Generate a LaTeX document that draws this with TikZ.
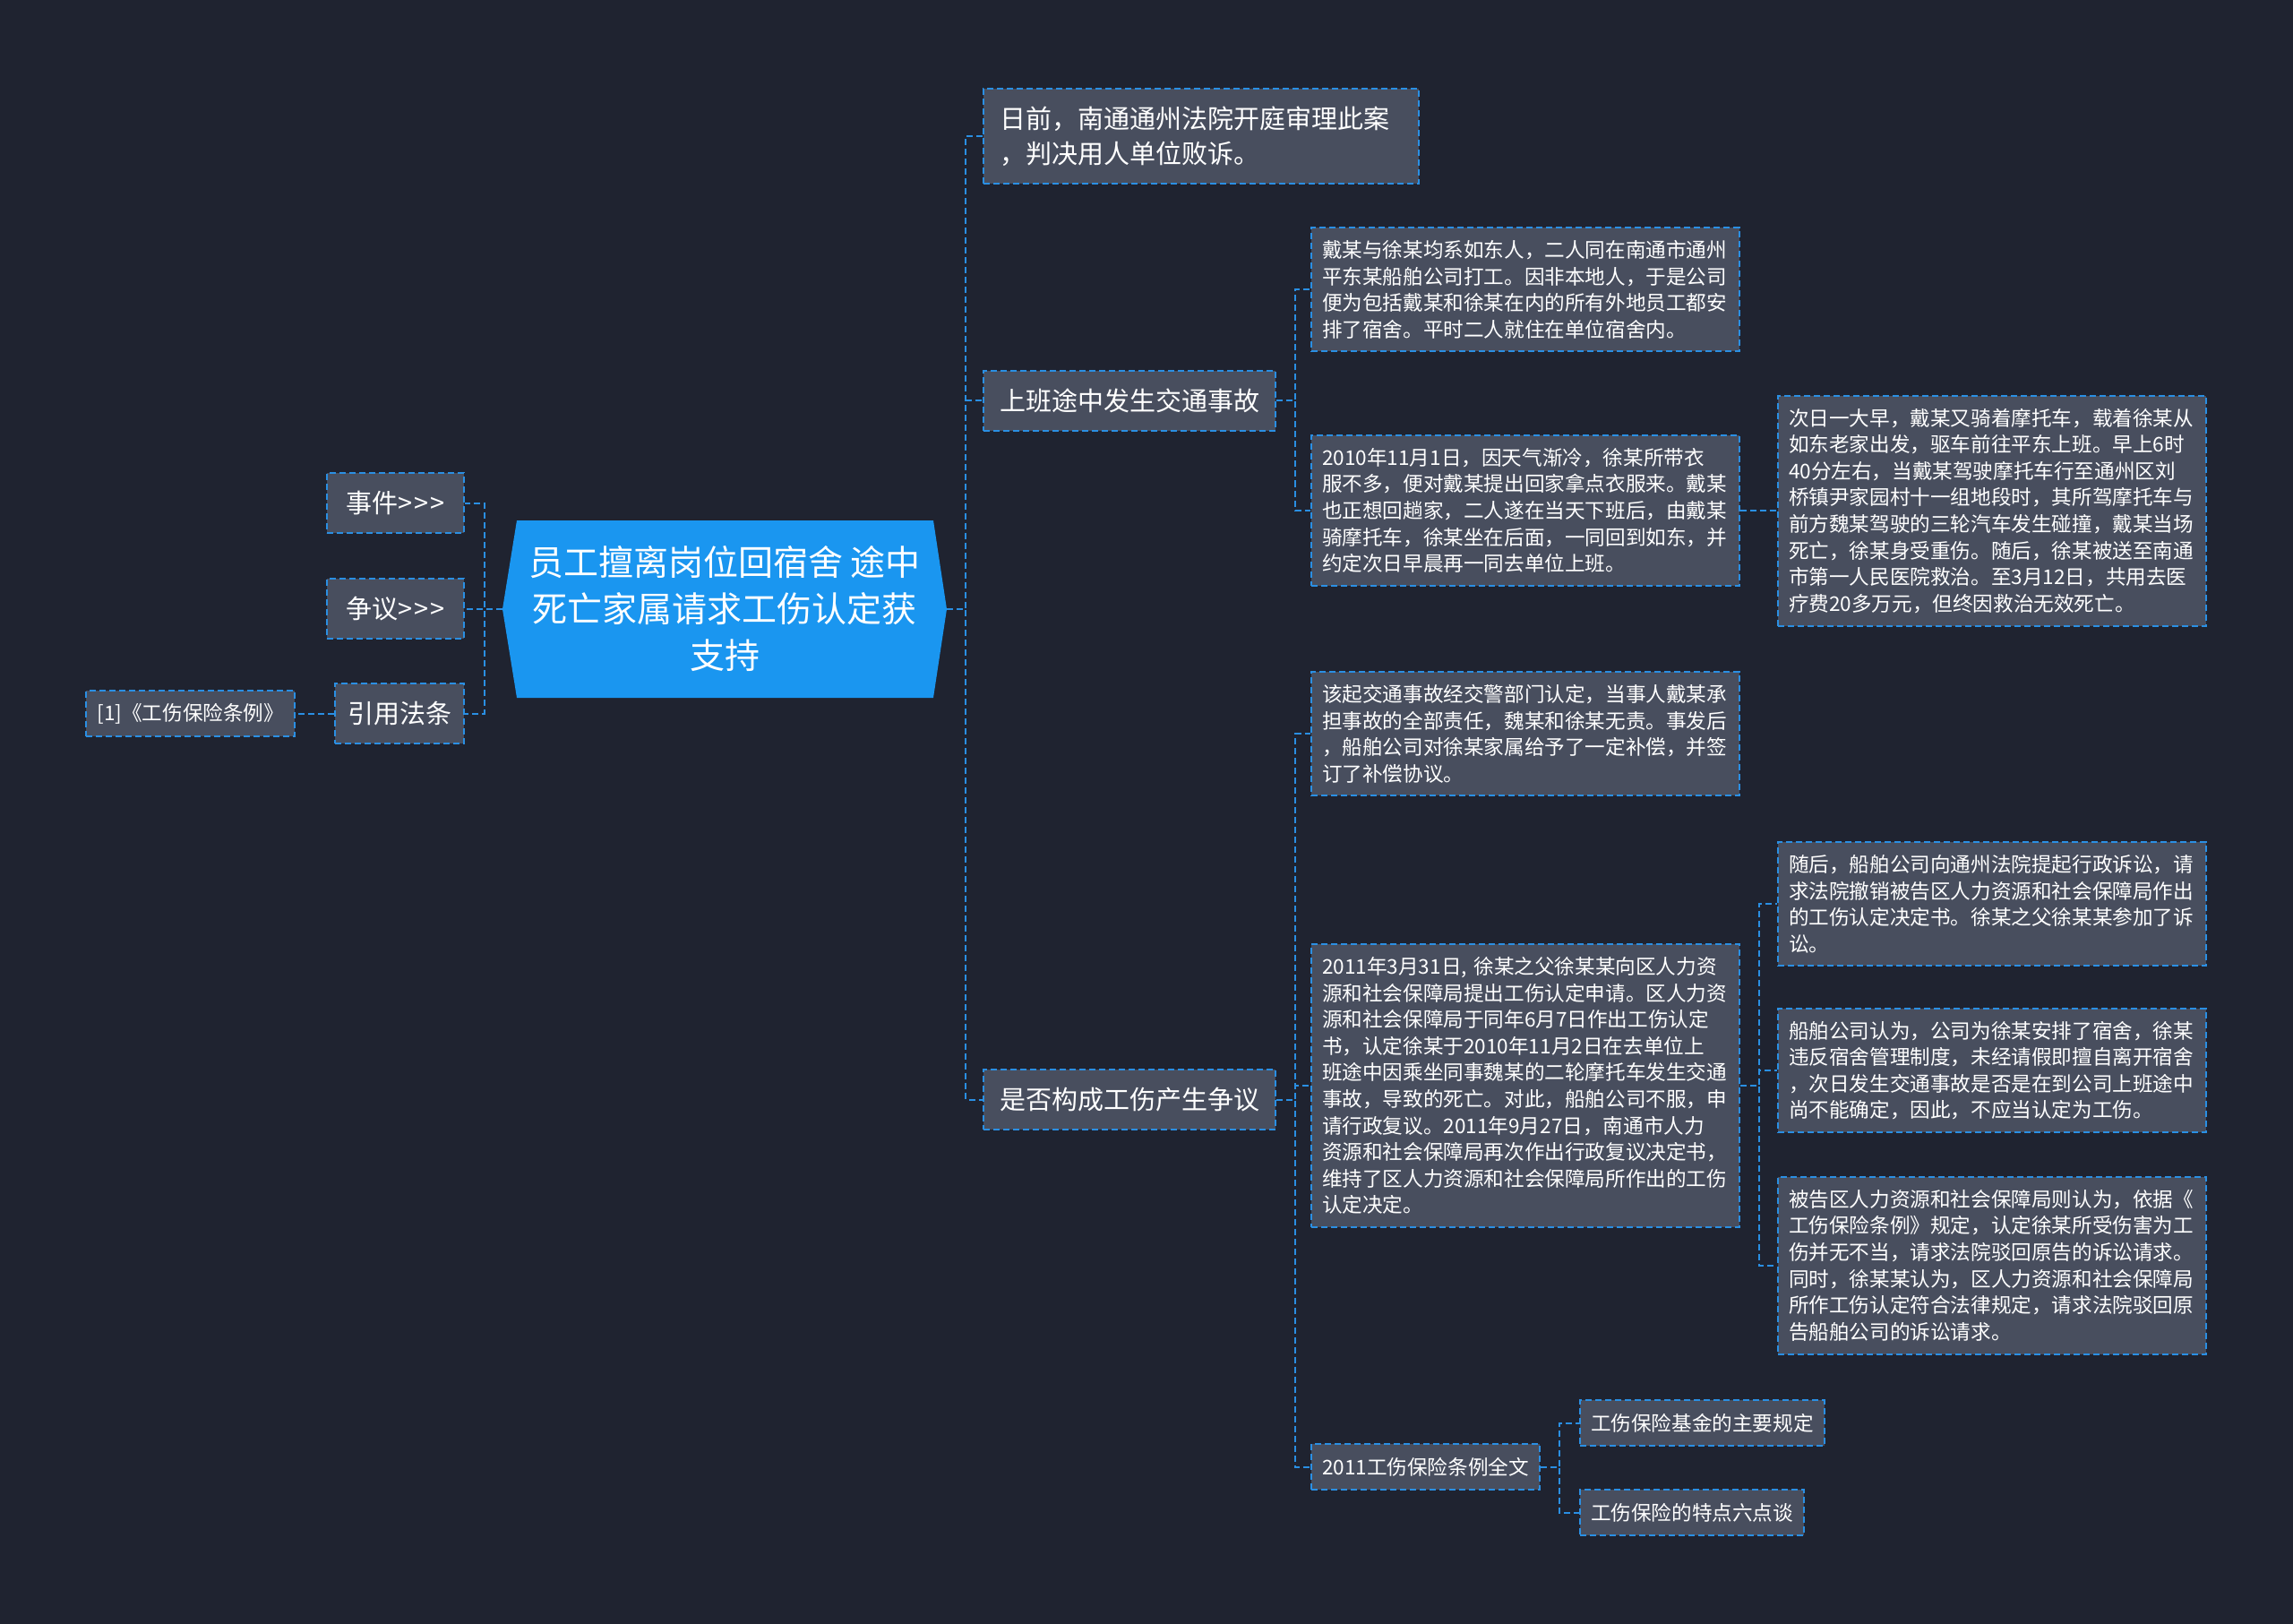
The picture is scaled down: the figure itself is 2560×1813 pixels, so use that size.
\documentclass[tikz,border=0pt]{standalone}
\usepackage{fontspec}
\setmainfont{Noto Sans CJK SC}
\usetikzlibrary{positioning}
\definecolor{bgdark}{HTML}{1F2330}
\definecolor{boxgrey}{HTML}{484E5E}
\definecolor{linkblue}{HTML}{2A8FE3}
\definecolor{rootblue}{HTML}{1A96F0}
\tikzset{
  link/.style={draw=linkblue,line width=1pt,dash pattern=on 3.5pt off 2pt},
  box/.style={link,fill=boxgrey,text=white,inner ysep=0pt},
  smallbox/.style={box,font=\fontsize{11.3pt}{14.8pt}\selectfont,inner xsep=6pt,minimum height=25.5pt},
  textbox/.style={smallbox,text width=227pt,align=left},
  midbox/.style={box,font=\fontsize{14.5pt}{19.5pt}\selectfont,inner xsep=9pt,minimum height=33.5pt},
  rows/.style={minimum height=#1*14.8pt+10pt},
}
\begin{document}
\begin{tikzpicture}[x=0.5pt,y=-0.5pt]
\useasboundingbox (0,0) rectangle (2560,1813);
\fill[bgdark] (0,0) rectangle (2560,1813);
% centre topic
\fill[rootblue] (561,680) -- (577,581) -- (1042,581) -- (1057,680) -- (1042,779) -- (577,779) -- cycle;
\node[minimum width=248pt,minimum height=99pt,inner sep=0pt,align=center,text=white,
  font=\fontsize{19.5pt}{26pt}\selectfont] (root) at (809,680)
  {员工擅离岗位回宿舍 途中\\死亡家属请求工伤认定获\\支持};
% left side
\node[midbox,minimum width=76.5pt,anchor=north east] (events) at (519,527) {事件>\kern1pt{}>\kern1pt{}>};
\node[midbox,minimum width=76.5pt,anchor=north east] (disputes) at (519,645) {争议>\kern1pt{}>\kern1pt{}>};
\node[midbox,inner xsep=7pt,anchor=north east] (lawref) at (519,762) {引用法条};
\node[smallbox,left=21.5pt of lawref] (lawitem) {[1]《工伤保险条例》};
% right side, first level
\node[midbox,text width=225pt,align=left,minimum height=53pt,anchor=north west] (verdict) at (1097,98)
  {日前，南通通州法院开庭审理此案\\，判决用人单位败诉。};
\node[midbox,anchor=north west] (accident) at (1097,413) {上班途中发生交通事故};
\node[midbox,anchor=north west] (dispute) at (1097,1193) {是否构成工伤产生争议};
% accident details
\node[textbox,rows=4,anchor=north west] (dorm) at (1463,253)
  {戴某与徐某均系如东人，二人同在南通市通州\\平东某船舶公司打工。因非本地人，于是公司\\便为包括戴某和徐某在内的所有外地员工都安\\排了宿舍。平时二人就住在单位宿舍内。};
\node[textbox,rows=5,anchor=north west] (homeride) at (1463,485)
  {2010年11月1日，因天气渐冷，徐某所带衣\\服不多，便对戴某提出回家拿点衣服来。戴某\\也正想回趟家，二人遂在当天下班后，由戴某\\骑摩托车，徐某坐在后面，一同回到如东，并\\约定次日早晨再一同去单位上班。};
\node[textbox,rows=8,anchor=north west] (crash) at (1984,441)
  {次日一大早，戴某又骑着摩托车，载着徐某从\\如东老家出发，驱车前往平东上班。早上6时\\40分左右，当戴某驾驶摩托车行至通州区刘\\桥镇尹家园村十一组地段时，其所驾摩托车与\\前方魏某驾驶的三轮汽车发生碰撞，戴某当场\\死亡，徐某身受重伤。随后，徐某被送至南通\\市第一人民医院救治。至3月12日，共用去医\\疗费20多万元，但终因救治无效死亡。};
% dispute details
\node[textbox,rows=4,anchor=north west] (police) at (1463,749)
  {该起交通事故经交警部门认定，当事人戴某承\\担事故的全部责任，魏某和徐某无责。事发后\\，船舶公司对徐某家属给予了一定补偿，并签\\订了补偿协议。};
\node[textbox,rows=10,anchor=north west] (claim) at (1463,1053)
  {2011年3月31日, 徐某之父徐某某向区人力资\\源和社会保障局提出工伤认定申请。区人力资\\源和社会保障局于同年6月7日作出工伤认定\\书，认定徐某于2010年11月2日在去单位上\\班途中因乘坐同事魏某的二轮摩托车发生交通\\事故，导致的死亡。对此，船舶公司不服，申\\请行政复议。2011年9月27日，南通市人力\\资源和社会保障局再次作出行政复议决定书，\\维持了区人力资源和社会保障局所作出的工伤\\认定决定。};
\node[smallbox,anchor=north west] (regs) at (1463,1611) {2011工伤保险条例全文};
\node[textbox,rows=4,anchor=north west] (suit) at (1984,939)
  {随后，船舶公司向通州法院提起行政诉讼，请\\求法院撤销被告区人力资源和社会保障局作出\\的工伤认定决定书。徐某之父徐某某参加了诉\\讼。};
\node[textbox,rows=4,anchor=north west] (company) at (1984,1125)
  {船舶公司认为，公司为徐某安排了宿舍，徐某\\违反宿舍管理制度，未经请假即擅自离开宿舍\\，次日发生交通事故是否是在到公司上班途中\\尚不能确定，因此，不应当认定为工伤。};
\node[textbox,rows=6,anchor=north west] (bureau) at (1984,1313)
  {被告区人力资源和社会保障局则认为，依据《\\工伤保险条例》规定，认定徐某所受伤害为工\\伤并无不当，请求法院驳回原告的诉讼请求。\\同时，徐某某认为，区人力资源和社会保障局\\所作工伤认定符合法律规定，请求法院驳回原\\告船舶公司的诉讼请求。};
\node[smallbox,anchor=north west] (fund) at (1763,1562) {工伤保险基金的主要规定};
\node[smallbox,anchor=north west] (traits) at (1763,1662) {工伤保险的特点六点谈};
% connectors
\draw[link] (root.west) -- ++(-20,0) |- (events.east);
\draw[link] (root.west) -- ++(-20,0) |- (disputes.east);
\draw[link] (root.west) -- ++(-20,0) |- (lawref.east);
\draw[link] (lawref.west) -- (lawitem.east);
\draw[link] (root.east) -- ++(21,0) |- (verdict.west);
\draw[link] (root.east) -- ++(21,0) |- (accident.west);
\draw[link] (root.east) -- ++(21,0) |- (dispute.west);
\draw[link] (accident.east) -- ++(21,0) |- (dorm.west);
\draw[link] (accident.east) -- ++(21,0) |- (homeride.west);
\draw[link] (homeride.east) -- ++(21,0) |- (crash.west);
\draw[link] (dispute.east) -- ++(21,0) |- (police.west);
\draw[link] (dispute.east) -- ++(21,0) |- (claim.west);
\draw[link] (dispute.east) -- ++(21,0) |- (regs.west);
\draw[link] (claim.east) -- ++(21,0) |- (suit.west);
\draw[link] (claim.east) -- ++(21,0) |- (company.west);
\draw[link] (claim.east) -- ++(21,0) |- (bureau.west);
\draw[link] (regs.east) -- ++(21,0) |- (fund.west);
\draw[link] (regs.east) -- ++(21,0) |- (traits.west);
\end{tikzpicture}
\end{document}
